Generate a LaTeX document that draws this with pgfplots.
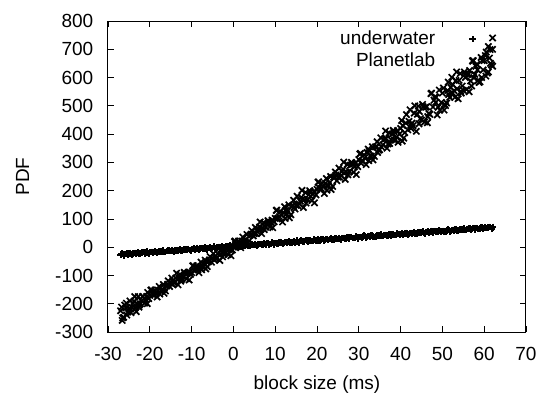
\documentclass[border=0pt]{standalone}
\usepackage{fontspec}
\setmainfont{Liberation Sans}
\usepackage{pgfplots}
\pgfplotsset{compat=1.18}
\begin{document}%
\fontsize{9.5}{11}\selectfont%
\begin{tikzpicture}
\begin{axis}[
  scale only axis,
  width=209pt, height=155.5pt,
  xmin=-30, xmax=70, ymin=-300, ymax=800,
  xtick={-30,-20,...,70}, ytick={-300,-200,...,800},
  tick align=inside, major tick length=3pt,
  tick style={black, line width=0.4pt},
  axis line style={line width=0.5pt},
  /pgf/number format/assume math mode=true,
  tick label style={font=\fontsize{9.5}{11}\selectfont},
  label style={font=\fontsize{9.5}{11}\selectfont},
  xlabel={block size (ms)}, ylabel={PDF},
  xlabel style={yshift=-1pt},
  ylabel style={yshift=6.5pt},
  xticklabel style={yshift=-4pt},
  yticklabel style={xshift=-4pt},
  legend image code/.code={\draw[#1] plot coordinates {(0pt,0pt)};},
  legend style={draw=none, fill=none, at={(0.895,0.995)}, anchor=north east,
    font=\fontsize{9.5}{11}\selectfont, row sep=-1.5pt, column sep=15pt},
  legend cell align=right,
  legend plot pos=right,
]
\addplot[only marks, mark=+, mark size=1.6pt, black, line width=1pt] coordinates {
(-27,-26) (-26.5,-24) (-26,-24) (-25.5,-22) (-25,-23) (-24.5,-24) (-24,-22) (-23.5,-20) (-23,-21) (-22.5,-22)
(-22,-20) (-21.5,-18) (-21,-19) (-20.5,-20) (-20,-18) (-19.5,-16) (-19,-17) (-18.5,-18) (-18,-16) (-17.5,-14)
(-17,-15) (-16.5,-16) (-16,-13) (-15.5,-12) (-15,-13) (-14.5,-14) (-14,-11) (-13.5,-10) (-13,-10) (-12.5,-12)
(-12,-10) (-11.5,-8) (-11,-8) (-10.5,-9) (-10,-7) (-9.5,-5) (-9,-6) (-8.5,-7) (-8,-5) (-7.5,-3)
(-7,-4) (-6.5,-5) (-6,-3) (-5.5,-1) (-5,-2) (-4.5,-3) (-4,-1) (-3.5,1) (-3,0) (-2.5,-1)
(-2,1) (-1.5,3) (-1,2) (-0.5,1) (0,3) (0.5,5)
(1,5) (2,4) (3,8) (4,5) (5,8) (6,10) (7,10) (8,14) (9,11) (10,14)
(11,16) (12,15) (13,19) (14,16) (15,19) (16,21) (17,20) (18,24) (19,22) (20,24)
(21,27) (22,26) (23,30) (24,27) (25,30) (26,32) (27,31) (28,35) (29,33) (30,35)
(31,38) (32,37) (33,41) (34,38) (35,41) (36,43) (37,42) (38,46) (39,44) (40,46)
(41,48) (42,47) (43,51) (44,49) (45,52) (46,54) (47,53) (48,57) (49,55) (50,57)
(51,59) (52,58) (53,62) (54,60) (55,63) (56,65) (57,64) (58,68) (59,66) (60,68)
(61,70) (62,72)
(1.5,6) (2.5,7) (3.5,5) (4.5,9) (5.5,7) (6.5,11) (7.5,12) (8.5,10) (9.5,14) (10.5,13)
(11.5,17) (12.5,18) (13.5,16) (14.5,20) (15.5,18) (16.5,22) (17.5,23) (18.5,21) (19.5,25) (20.5,24)
(21.5,28) (22.5,29) (23.5,27) (24.5,31) (25.5,29) (26.5,33) (27.5,34) (28.5,32) (29.5,36) (30.5,35)
(31.5,39) (32.5,40) (33.5,38) (34.5,42) (35.5,40) (36.5,44) (37.5,45) (38.5,43) (39.5,47) (40.5,45)
(41.5,49) (42.5,50) (43.5,48) (44.5,52) (45.5,50) (46.5,55) (47.5,56) (48.5,54) (49.5,58) (50.5,56)
(51.5,60) (52.5,61) (53.5,59) (54.5,63) (55.5,61) (56.5,66) (57.5,67) (58.5,65) (59.5,69) (60.5,67)
(61.5,71) (62,70)
(-26.75,-23) (-26.25,-29) (-25.75,-24) (-25.25,-26) (-24.75,-20) (-24.25,-26) (-23.75,-21) (-23.25,-23)
(-22.75,-19) (-22.25,-25) (-21.75,-19) (-21.25,-22) (-20.75,-15) (-20.25,-22) (-19.75,-16) (-19.25,-19)
(-18.75,-14) (-18.25,-21) (-17.75,-15) (-17.25,-18) (-16.75,-11) (-16.25,-18) (-15.75,-12) (-15.25,-14)
(-14.75,-10) (-14.25,-16) (-13.75,-11) (-13.25,-13) (-12.75,-7) (-12.25,-13) (-11.75,-8) (-11.25,-10)
(-10.75,-6) (-10.25,-12) (-9.75,-7) (-9.25,-9) (-8.75,-2) (-8.25,-9) (-7.75,-3) (-7.25,-6)
(-6.75,-1) (-6.25,-8) (-5.75,-2) (-5.25,-5) (-4.75,2) (-4.25,-5) (-3.75,1) (-3.25,-2)
(-2.75,3) (-2.25,-3) (-1.75,2) (-1.25,0) (-0.75,6) (-0.25,0) (0.25,5) (0.75,3)
(1.25,7) (1.75,1) (2.25,6) (2.75,4) (3.25,11) (3.75,4) (4.25,10) (4.75,7)
(5.25,12) (5.75,5) (6.25,11) (6.75,8) (7.25,15) (7.75,8) (8.25,14) (8.75,11)
(9.25,16) (9.75,10) (10.25,15) (10.75,13) (11.25,19) (11.75,13) (12.25,18) (12.75,16)
(13.25,20) (13.75,14) (14.25,19) (14.75,17) (15.25,23) (15.75,17) (16.25,23) (16.75,20)
(17.25,25) (17.75,18) (18.25,24) (18.75,21) (19.25,28) (19.75,21) (20.25,27) (20.75,24)
(21.25,29) (21.75,22) (22.25,28) (22.75,26) (23.25,32) (23.75,26) (24.25,31) (24.75,29)
(25.25,33) (25.75,27) (26.25,32) (26.75,30) (27.25,36) (27.75,30) (28.25,36) (28.75,33)
(29.25,38) (29.75,31) (30.25,37) (30.75,34) (31.25,41) (31.75,34) (32.25,40) (32.75,37)
(33.25,42) (33.75,35) (34.25,41) (34.75,39) (35.25,45) (35.75,39) (36.25,44) (36.75,42)
(37.25,46) (37.75,40) (38.25,45) (38.75,43) (39.25,49) (39.75,43) (40.25,48) (40.75,46)
(41.25,51) (41.75,44) (42.25,50) (42.75,47) (43.25,54) (43.75,47) (44.25,53) (44.75,50)
(45.25,55) (45.75,48) (46.25,54) (46.75,51) (47.25,58) (47.75,52) (48.25,57) (48.75,55)
(49.25,59) (49.75,53) (50.25,58) (50.75,56) (51.25,62) (51.75,56) (52.25,61) (52.75,59)
(53.25,64) (53.75,57) (54.25,63) (54.75,60) (55.25,67) (55.75,60) (56.25,66) (56.75,63)
(57.25,68) (57.75,61) (58.25,67) (58.75,64) (59.25,71) (59.75,65) (60.25,70) (60.75,68)
(61.25,72) (61.75,66)
};
\addlegendentry{underwater}
\addplot[only marks, mark=x, mark size=2.2pt, black, line width=0.85pt] coordinates {
(-27,-225) (-26.5,-250) (-26,-205) (-25.5,-240) (-25,-218) (-24.5,-232) (-24,-198) (-23.5,-215) (-23,-200) (-22.5,-205)
(-22,-190) (-21,-185) (-20.5,-160) (-20,-170) (-19,-168) (-18.5,-165) (-18,-152) (-17,-150) (-16.5,-145) (-16,-138)
(-15,-128) (-14.5,-118) (-14,-125) (-13,-110) (-12.5,-115) (-12,-105) (-11,-92) (-10.5,-88) (-10,-90) (-9,-75)
(-8.5,-80) (-8,-70) (-7,-60) (-6.5,-50) (-6,-52) (-5,-40) (-4.5,-45) (-4,-38) (-3,-25) (-2.5,-18)
(-2,-20) (-1,-8) (-0.5,-10) (0,0) (0.5,10) (1,8) (2,22) (2.5,20) (3,28) (4,42)
(4.5,45) (5,48) (6,62) (6.5,62) (7,68) (8,82) (8.5,88) (9,88) (10,102) (10.5,100)
(11,108) (12,122) (12.5,130) (13,128) (14,145) (14.5,140) (15,148) (16,163) (16.5,170) (17,168)
(18,185) (18.5,180) (19,188) (20,205) (20.5,210) (21,208) (22,225) (22.5,220) (23,228) (24,248)
(24.5,255) (25,248) (26,268) (26.5,262) (27,266) (28,290) (28.5,295) (29,285) (30,310) (30.5,298)
(31,305) (32,335) (32.5,340) (33,322) (34,355) (34.5,335) (35,345) (36,380) (36.5,385) (37,365)
(38,400) (38.5,378) (39,390) (40,420) (40.5,430) (41,405) (42,445) (42.5,420) (43,430) (44,470)
(44.5,480) (45,450) (46,495) (46.5,462) (47,470) (48,520) (48.5,530) (49,495) (50,545) (50.5,505)
(51,510) (51.5,540) (52,565) (52.5,575) (53,530) (53.5,560) (54,590) (54.5,545) (55,555) (55.5,600)
(56,610) (56.5,625) (57,570) (57.5,600) (58,640) (58.5,590) (59,585) (59.5,660) (60,660) (60.5,690)
(61,620) (61,710) (61.5,650) (62,740) (62,640) (62,700)
(-26.75,-212) (-26.25,-248) (-25.75,-215) (-25.25,-229) (-24.75,-190) (-24.25,-213) (-23.75,-191) (-23.25,-228)
(-22.75,-175) (-22.25,-200) (-21.75,-175) (-21.25,-198) (-20.75,-174) (-20.25,-182) (-19.75,-152) (-19.25,-169)
(-18.75,-152) (-18.25,-176) (-17.75,-139) (-17.25,-154) (-16.75,-132) (-16.25,-155) (-15.75,-131) (-15.25,-139)
(-14.75,-109) (-14.25,-126) (-13.75,-109) (-13.25,-133) (-12.75,-96) (-12.25,-111) (-11.75,-89) (-11.25,-112)
(-10.75,-88) (-10.25,-96) (-9.75,-66) (-9.25,-83) (-8.75,-66) (-8.25,-90) (-7.75,-53) (-7.25,-68)
(-6.75,-46) (-6.25,-69) (-5.75,-45) (-5.25,-53) (-4.75,-23) (-4.25,-40) (-3.75,-23) (-3.25,-47)
(-2.75,-10) (-2.25,-25) (-1.75,-3) (-1.25,-26) (-0.75,-2) (-0.25,-10) (0.25,20) (0.75,5)
(1.25,22) (1.75,-2) (2.25,36) (2.75,21) (3.25,45) (3.75,22) (4.25,46) (4.75,40)
(5.25,70) (5.75,55) (6.25,71) (6.75,48) (7.25,86) (7.75,71) (8.25,94) (8.75,72)
(9.25,96) (9.75,90) (10.25,130) (10.75,103) (11.25,126) (11.75,89) (12.25,143) (12.75,118)
(13.25,150) (13.75,115) (14.25,148) (14.75,135) (15.25,180) (15.75,153) (16.25,176) (16.75,140)
(17.25,193) (17.75,168) (18.25,200) (18.75,165) (19.25,198) (19.75,185) (20.25,230) (20.75,203)
(21.25,226) (21.75,190) (22.25,243) (22.75,218) (23.25,250) (23.75,215) (24.25,248) (24.75,235)
(25.25,280) (25.75,253) (26.25,276) (26.75,240) (27.25,293) (27.75,268) (28.25,300) (28.75,265)
(29.25,298) (29.75,285) (30.25,330) (30.75,305) (31.25,327) (31.75,292) (32.25,347) (32.75,323)
(33.25,355) (33.75,321) (34.25,355) (34.75,343) (35.25,387) (35.75,362) (36.25,385) (36.75,350)
(37.25,404) (37.75,380) (38.25,413) (38.75,379) (39.25,412) (39.75,400) (40.25,448) (40.75,386)
(41.25,439) (41.75,415) (42.25,486) (42.75,439) (43.25,474) (43.75,410) (44.25,499) (44.75,455)
(45.25,505) (45.75,443) (46.25,497) (46.75,473) (47.25,543) (47.75,496) (48.25,532) (48.75,468)
(49.25,556) (49.75,512) (50.25,563) (50.75,501) (51.25,554) (51.75,530) (52.25,601) (52.75,554)
(53.25,589) (53.75,525) (54.25,614) (54.75,570) (55.25,620) (55.75,558) (56.25,612) (56.75,588)
(57.25,658) (57.75,611) (58.25,647) (58.75,583) (59.25,671) (59.75,627) (60.25,678) (60.75,616)
(61.25,669) (61.75,645)
(-26.6,-259) (-25.6,-198) (-24.6,-219) (-23.6,-175) (-22.6,-212) (-21.6,-174) (-20.6,-200) (-19.6,-151)
(-18.6,-160) (-17.6,-166) (-16.6,-163) (-15.6,-119) (-14.6,-131) (-13.6,-92) (-12.6,-120) (-11.6,-92)
(-10.6,-116) (-9.6,-65) (-8.6,-74) (-7.6,-80) (-6.6,-77) (-5.6,-33) (-4.6,-45) (-3.6,-6)
(-2.6,-34) (-1.6,-6) (-0.6,-30) (0.4,22) (1.4,14) (2.4,9) (3.4,14) (4.4,59)
(5.4,49) (6.4,89) (7.4,62) (8.4,92) (9.4,69) (10.4,131) (11.4,114) (12.4,102)
(13.4,104) (14.4,166) (15.4,147) (16.4,201) (17.4,156) (18.4,196) (19.4,157) (20.4,231)
(21.4,214) (22.4,202) (23.4,204) (24.4,266) (25.4,247) (26.4,301) (27.4,256) (28.4,296)
(29.4,257) (30.4,332) (31.4,316) (32.4,306) (33.4,309) (34.4,373) (35.4,355) (36.4,411)
(37.4,367) (38.4,409) (39.4,371) (40.4,375) (41.4,469) (42.4,431) (43.4,500) (44.4,436)
(45.4,497) (46.4,440) (47.4,545) (48.4,512) (49.4,485) (50.4,485) (51.4,584) (52.4,546)
(53.4,620) (54.4,551) (55.4,612) (56.4,550) (57.4,660) (58.4,627) (59.4,600) (60.4,605)
(61.4,699)
};
\addlegendentry{Planetlab}
\end{axis}
\path (current axis.south west) ++(-54pt,-31pt) rectangle ++(271.5pt,197pt);
\end{tikzpicture}%
\end{document}
